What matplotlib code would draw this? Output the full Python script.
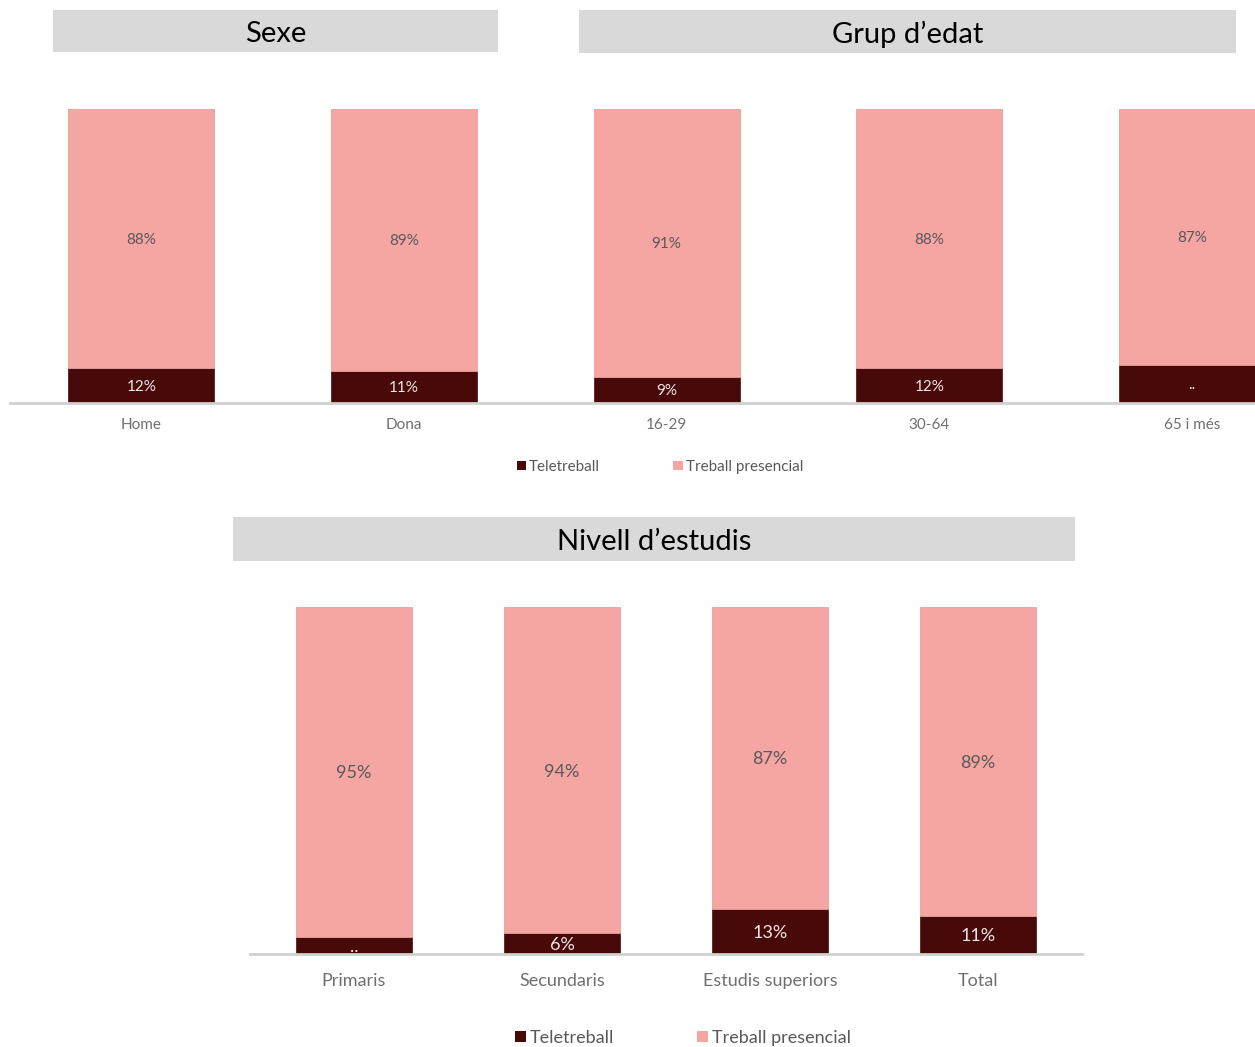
import matplotlib
matplotlib.use("Agg")
import matplotlib.pyplot as plt
from matplotlib.patches import Rectangle, Patch
import numpy as np

plt.rcParams['font.family'] = ['Lato', 'DejaVu Sans']

# Data
top_categories = ["Home", "Dona", "16-29", "30-64", "65 i més"]
top_tele = [12, 11, 9, 12, 13]
top_pres = [88, 89, 91, 88, 87]
top_tele_labels = ["12%", "11%", "9%", "12%", ".."]
top_pres_labels = ["88%", "89%", "91%", "88%", "87%"]

bot_categories = ["Primaris", "Secundaris", "Estudis superiors", "Total"]
bot_tele = [5, 6, 13, 11]
bot_pres = [95, 94, 87, 89]
bot_tele_labels = ["..", "6%", "13%", "11%"]
bot_pres_labels = ["95%", "94%", "87%", "89%"]

series_names = ["Teletreball", "Treball presencial"]
headers = ["Sexe", "Grup d\u2019edat", "Nivell d\u2019estudis"]

DARK = "#470a08"
PINK = "#f5a6a2"
GRAY_TXT = "#595959"
TICK_TXT = "#6f6f6f"
HDR = "#d9d9d9"

W, H = 1255, 1047
fig = plt.figure(figsize=(W / 100, H / 100), dpi=100)


def fr(x0, y0, x1, y1):
    return [x0 / W, 1 - y1 / H, (x1 - x0) / W, (y1 - y0) / H]


def header(x0, y0, x1, y1, text, size):
    l, b, w, h = fr(x0, y0, x1, y1)
    fig.patches.append(Rectangle((l, b), w, h, transform=fig.transFigure,
                                 facecolor=HDR, edgecolor='none', zorder=0))
    fig.text(l + w / 2, b + h / 2, text, ha='center', va='center_baseline',
             fontsize=size, color='black')


def draw(ax, cats, tele, pres, tl, pl, xlim, lsize, tsize, pad):
    x = np.arange(len(cats))
    width = 0.556
    ax.bar(x, tele, width, color=DARK, edgecolor=DARK, linewidth=0.5)
    ax.bar(x, pres, width, bottom=tele, color=PINK, edgecolor='#e3a09c', linewidth=0.6)
    for xi, t, p, a, b in zip(x, tele, pres, tl, pl):
        ax.text(xi, t / 2, a, ha='center', va='center_baseline', color='#f2e6e6', fontsize=lsize)
        ax.text(xi, t + p / 2, b, ha='center', va='center_baseline', color=GRAY_TXT, fontsize=lsize)
    ax.set_xlim(*xlim)
    ax.set_ylim(0, 100)
    ax.set_xticks(x)
    ax.set_xticklabels(cats, fontsize=tsize, color=TICK_TXT)
    ax.tick_params(axis='x', length=0, pad=pad)
    ax.set_yticks([])
    for s in ['top', 'right', 'left']:
        ax.spines[s].set_visible(False)
    ax.spines['bottom'].set_color('#d0d0d0')
    ax.spines['bottom'].set_linewidth(2)
    ax.patch.set_alpha(0)


ax1 = fig.add_axes(fr(10, 109, 1255, 403))
draw(ax1, top_categories, top_tele, top_pres, top_tele_labels, top_pres_labels,
     (-0.5, 4.24), 11, 11, 11)

ax2 = fig.add_axes(fr(250, 607, 1082, 954))
draw(ax2, bot_categories, bot_tele, bot_pres, bot_tele_labels, bot_pres_labels,
     (-0.5, 3.5), 13, 13, 14)

header(53, 10, 498, 52, headers[0], 21)
header(579, 10, 1236, 53, headers[1], 21)
header(233, 517, 1075, 561, headers[2], 21)

handles = [Patch(facecolor=DARK, edgecolor='none'), Patch(facecolor=PINK, edgecolor='none')]
fig.legend(handles, series_names, loc='center', bbox_to_anchor=(660 / W, 1 - 467 / H),
           ncol=2, frameon=False, fontsize=11, labelcolor=GRAY_TXT,
           handlelength=0.6, handleheight=0.6, handletextpad=0.2, columnspacing=4.8)
fig.legend(handles, series_names, loc='center', bbox_to_anchor=(683 / W, 1 - 1038 / H),
           ncol=2, frameon=False, fontsize=13, labelcolor=GRAY_TXT,
           handlelength=0.6, handleheight=0.6, handletextpad=0.2, columnspacing=4.6)

fig.savefig("out.png", dpi=100)
